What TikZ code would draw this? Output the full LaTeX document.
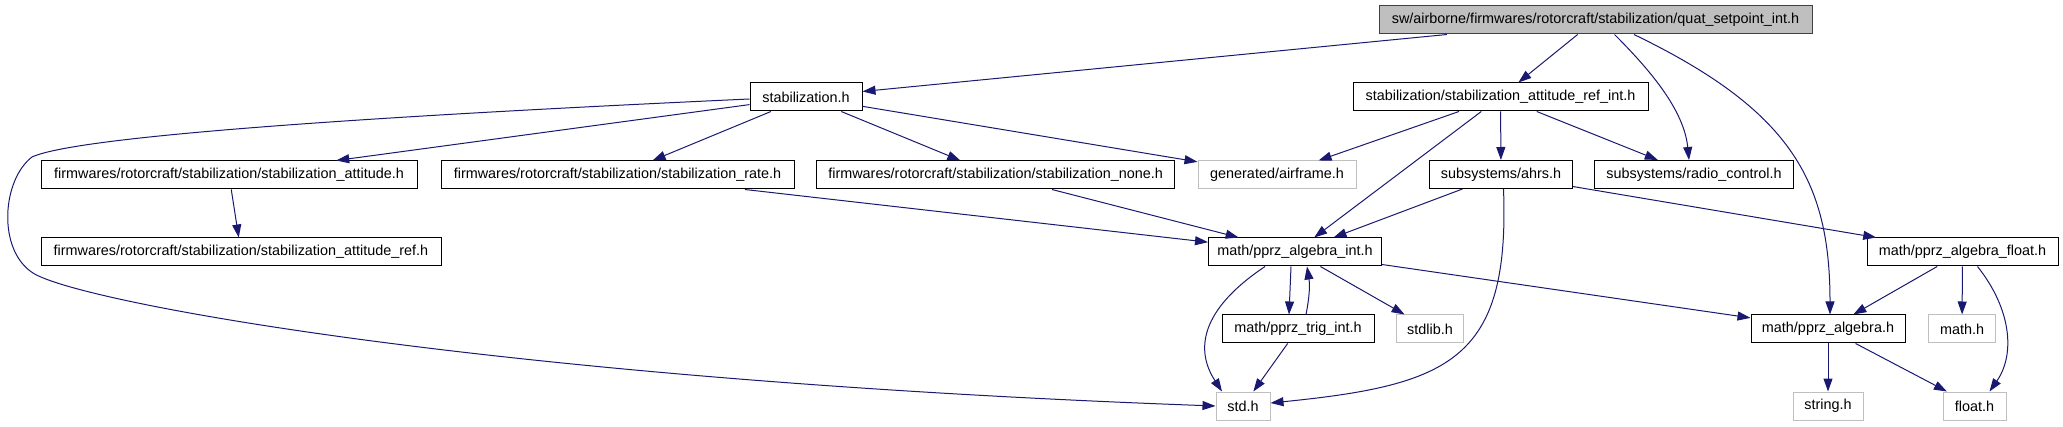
\documentclass[tikz,border=0pt]{standalone}
\usepackage{fontspec}
\setmainfont{Liberation Sans}
\usetikzlibrary{arrows.meta,calc}
\definecolor{edgeblue}{RGB}{25,25,112}
\definecolor{boxgray}{RGB}{191,191,191}
\definecolor{darkborder}{RGB}{64,64,64}
\tikzset{
  box/.style={draw=black, line width=1pt, minimum height=28pt, inner sep=0pt,
    font=\fontsize{14.4}{17}\selectfont, text=black},
  ubox/.style={box, draw=boxgray},
  rootbox/.style={box, fill=boxgray, draw=darkborder},
  edge/.style={draw=edgeblue, line width=1pt, -{Triangle[length=13pt,width=9pt]}},
}
\begin{document}
\begin{tikzpicture}[x=1pt,y=-1pt]
\useasboundingbox (0,0) rectangle (2063,427);
% nodes
\node[rootbox, minimum width=433pt] (root) at (1595.5,20) {sw/airborne/firmwares/rotorcraft/stabilization/quat\_setpoint\_int.h};
\node[box, minimum width=112pt] (stab) at (806,97) {stabilization.h};
\node[box, minimum width=295pt] (ari) at (1500.5,97) {stabilization/stabilization\_attitude\_ref\_int.h};
\node[box, minimum width=143pt] (ahrs) at (1501,174.5) {subsystems/ahrs.h};
\node[box, minimum width=199pt] (radio) at (1694,174.5) {subsystems/radio\_control.h};
\node[box, minimum width=376pt] (att) at (229,175) {firmwares/rotorcraft/stabilization/stabilization\_attitude.h};
\node[box, minimum width=353pt] (rate) at (617.5,175) {firmwares/rotorcraft/stabilization/stabilization\_rate.h};
\node[box, minimum width=358pt] (none) at (995.6,175) {firmwares/rotorcraft/stabilization/stabilization\_none.h};
\node[ubox, minimum width=158pt] (airframe) at (1277,175) {generated/airframe.h};
\node[box, minimum width=400pt] (attref) at (241,252) {firmwares/rotorcraft/stabilization/stabilization\_attitude\_ref.h};
\node[box, minimum width=173pt] (pint) at (1295,252) {math/pprz\_algebra\_int.h};
\node[box, minimum width=152pt] (trig) at (1298,329) {math/pprz\_trig\_int.h};
\node[ubox, minimum width=54pt] (std) at (1243,406) {std.h};
\node[ubox, minimum width=67pt] (stdlib) at (1430,329) {stdlib.h};
\node[box, minimum width=154pt] (palg) at (1828,329) {math/pprz\_algebra.h};
\node[ubox, minimum width=67pt] (math) at (1962,329) {math.h};
\node[box, minimum width=191pt] (pfloat) at (1962.5,252) {math/pprz\_algebra\_float.h};
\node[ubox, minimum width=70pt] (string) at (1828,406) {string.h};
\node[ubox, minimum width=63pt] (float) at (1974.5,406) {float.h};
% edges
\draw[edge] (root) -- (stab);
\draw[edge] (root) -- (ari);
\draw[edge] ([xshift=19pt]root.south) .. controls (1650,70) and (1684,110) .. ([xshift=-5pt]radio.north);
\draw[edge] ([xshift=38.5pt]root.south) .. controls (1790,110) and (1830,180) .. ([xshift=2pt]palg.north);
\draw[edge] ([yshift=-2pt]stab.west) .. controls (400,115) and (80,135) .. (32,157)
   .. controls (2,180) and (-3,250) .. (33,273)
   .. controls (80,303) and (500,380) .. (std.west);
\draw[edge] (stab) -- (att);
\draw[edge] (stab) -- (rate);
\draw[edge] (stab) -- (none);
\draw[edge] (stab) -- (airframe);
\draw[edge] (att) -- (attref);
\draw[edge] (rate) -- (pint);
\draw[edge] (none) -- (pint);
\draw[edge] (ari) -- (airframe);
\draw[edge] (ari) -- (pint);
\draw[edge] (ari) -- (ahrs);
\draw[edge] (ari) -- (radio);
\draw[edge] (ahrs) -- (pint);
\draw[edge] (ahrs) -- (pfloat);
\draw[edge] ([xshift=2.5pt]ahrs.south) .. controls (1510,360) and (1450,385) .. ([yshift=3pt]std.east);
\draw[edge] ([xshift=-30pt]pint.south) .. controls (1200,310) and (1195,350) .. ([xshift=-21pt]std.north);
\draw[edge] ([xshift=-4pt]pint.south) -- ([xshift=-9pt]trig.north);
\draw[edge] ([xshift=8pt]trig.north) to[bend right=10] ([xshift=12pt]pint.south);
\draw[edge] (pint) -- (stdlib);
\draw[edge] (pint) -- (palg);
\draw[edge] (trig) -- (std);
\draw[edge] (pfloat) -- (palg);
\draw[edge] (pfloat) -- (math);
\draw[edge] ([xshift=15pt]pfloat.south) .. controls (2012,310) and (2015,355) .. ([xshift=15pt]float.north);
\draw[edge] (palg) -- (string);
\draw[edge] (palg) -- (float);
\end{tikzpicture}
\end{document}
